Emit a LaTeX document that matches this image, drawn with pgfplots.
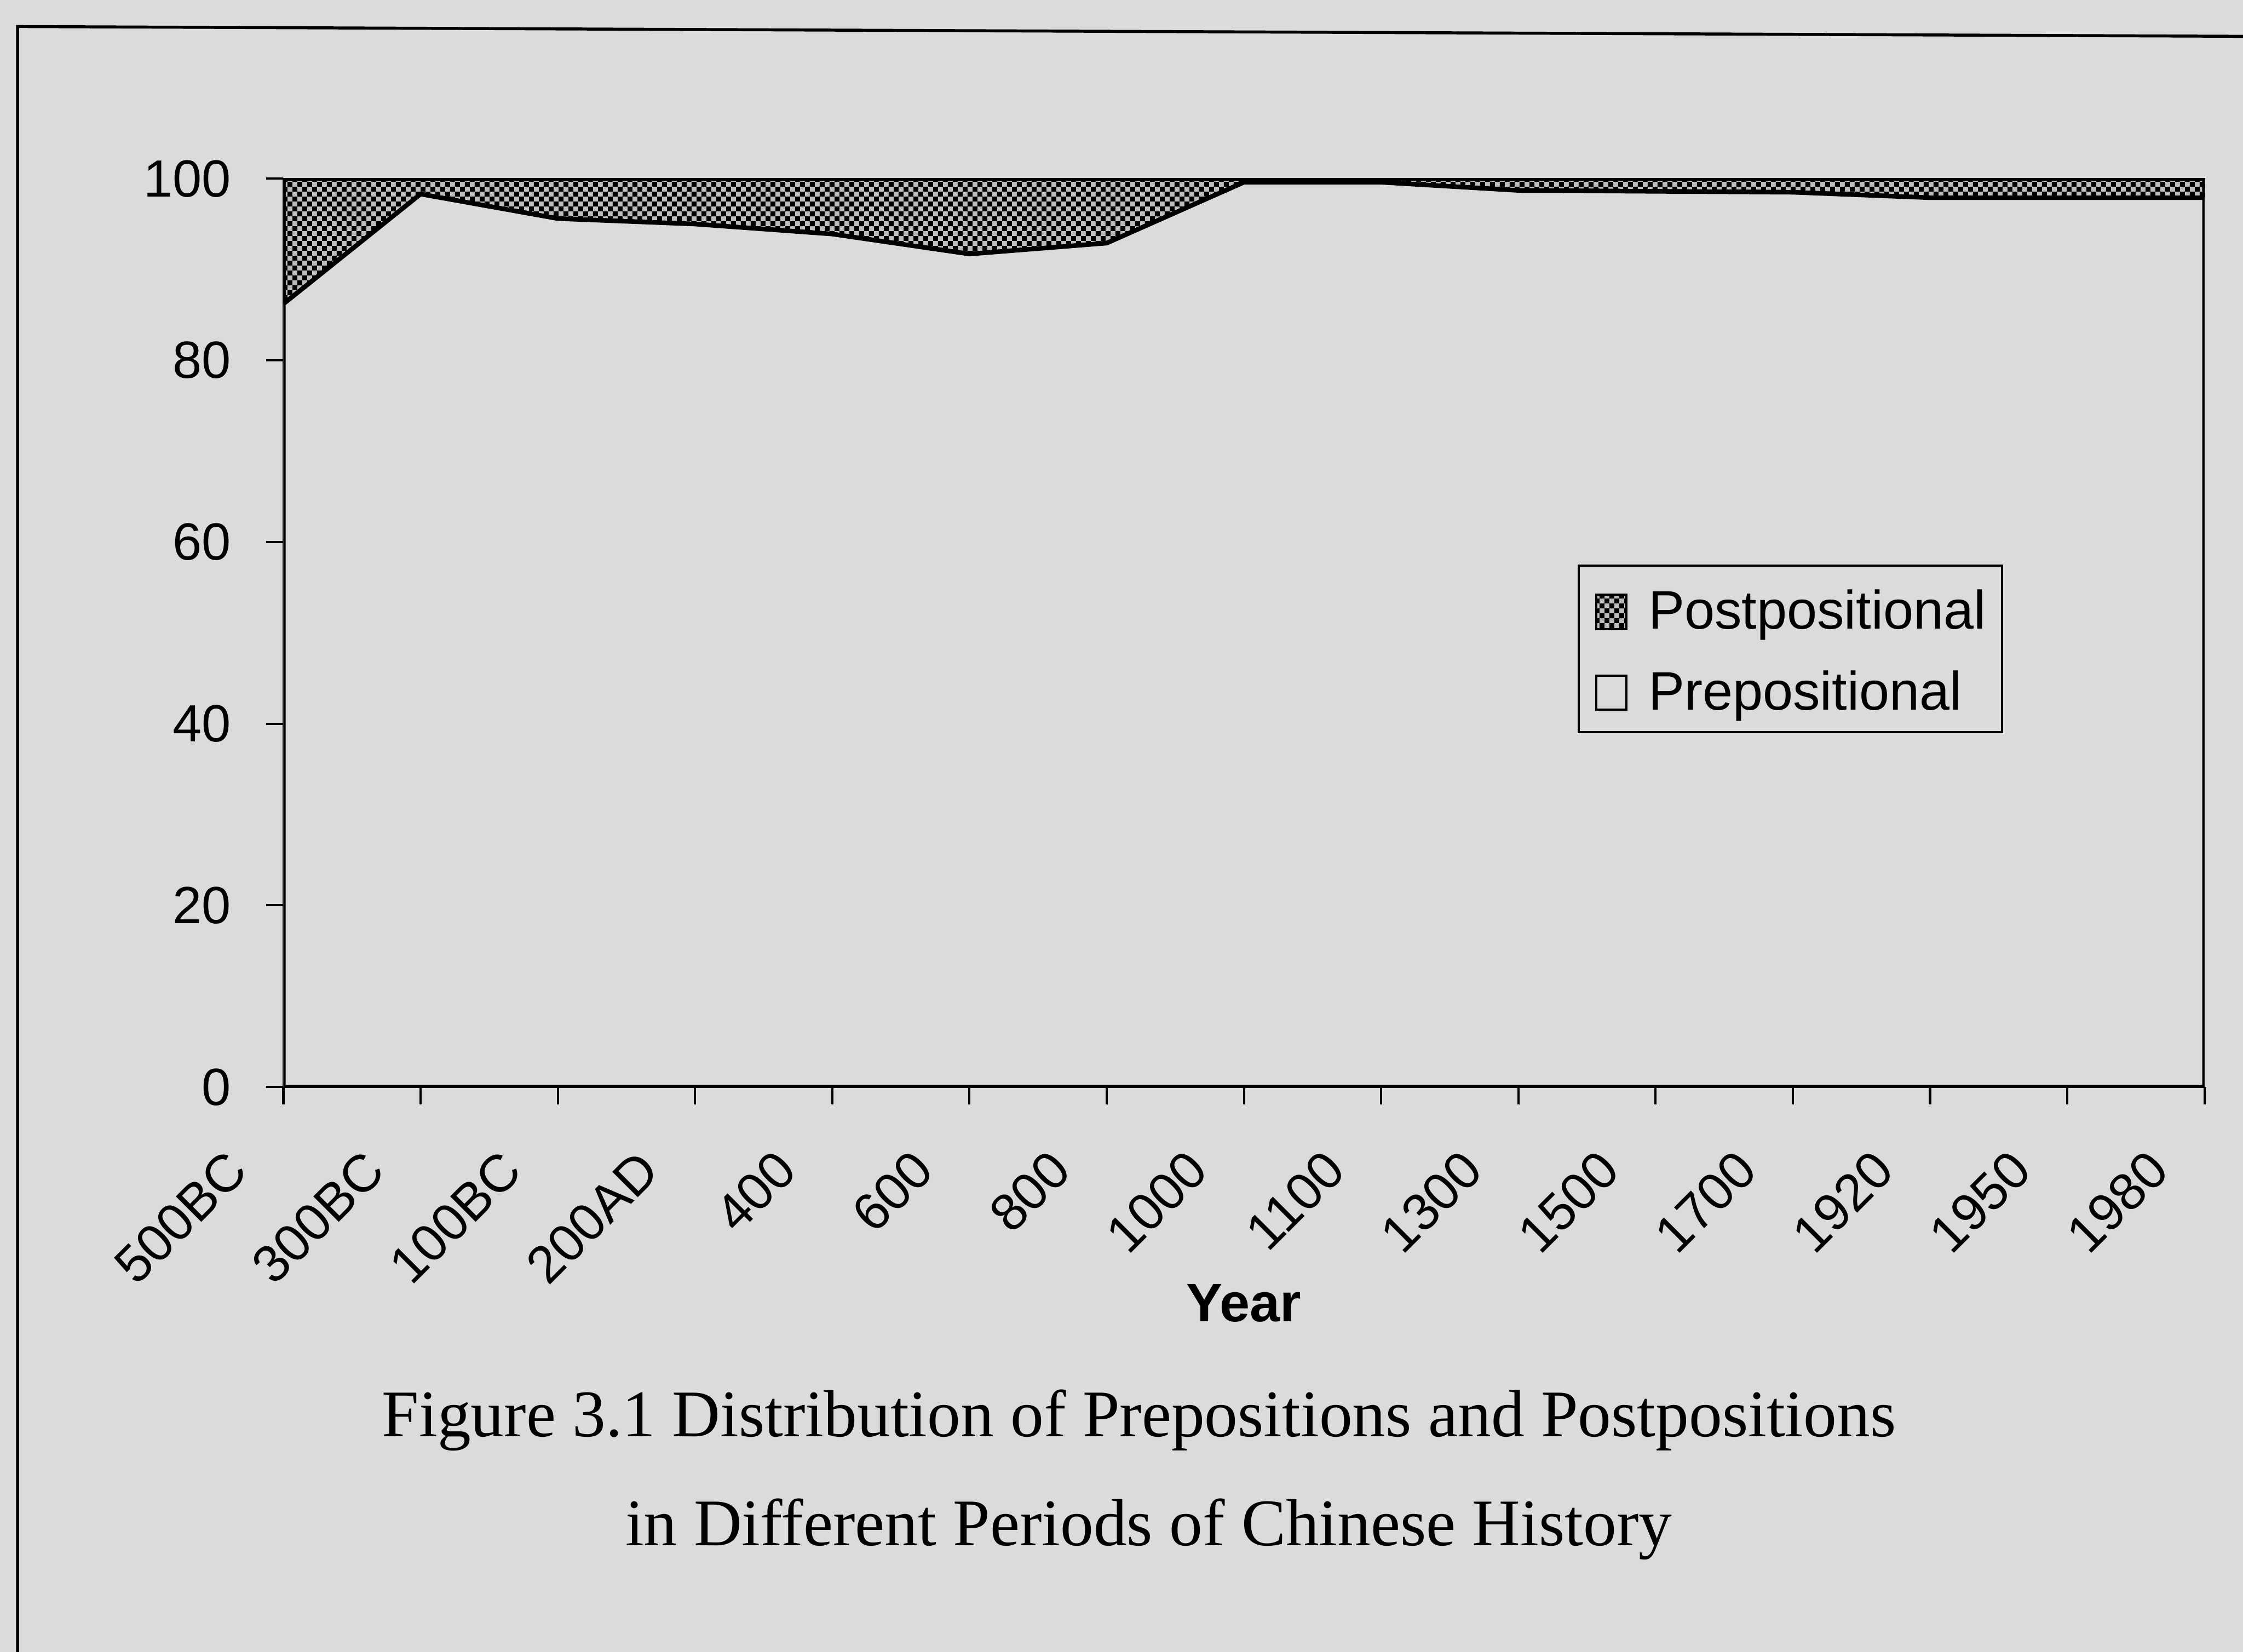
\documentclass[border=0pt]{standalone}
\usepackage{fontspec}
\setmainfont{Liberation Serif}
\newfontfamily\arial{Liberation Sans}
\usepackage{pgfplots}
\pgfplotsset{compat=1.18}
\usetikzlibrary{patterns}
\definecolor{bg}{gray}{0.86}
\definecolor{patlight}{gray}{0.74}
\pgfdeclarepatternformonly{checker}{\pgfpointorigin}{\pgfqpoint{2.7pt}{2.7pt}}{\pgfqpoint{2.7pt}{2.7pt}}{%
  \pgfpathrectangle{\pgfpointorigin}{\pgfqpoint{1.35pt}{1.35pt}}%
  \pgfpathrectangle{\pgfqpoint{1.35pt}{1.35pt}}{\pgfqpoint{1.35pt}{1.35pt}}%
  \pgfusepath{fill}}
\begin{document}
\begin{tikzpicture}
\useasboundingbox (0,0) rectangle (600pt,441.9pt);
\fill[bg] (0,0) rectangle (600pt,441.9pt);
\begin{scope}
\clip (0,0) rectangle (600pt,441.9pt);
\draw[line width=0.8pt] (4.7pt,-20pt) -- (4.7pt,434.8pt) -- (640pt,432pt);
\begin{axis}[
  at={(75.8pt,151.1pt)}, anchor=south west,
  scale only axis, width=513.9pt, height=243pt,
  xmin=0, xmax=14, ymin=0, ymax=100,
  enlargelimits=false,
  xtick={0,...,14},
  xticklabels={500BC,300BC,100BC,200AD,400,600,800,1000,1100,1300,1500,1700,1920,1950,1980},
  ytick={0,20,40,60,80,100},
  tick align=outside, xtick pos=bottom, ytick pos=left,
  major tick length=4.6pt,
  tick style={black, line width=0.6pt},
  axis line style={line width=0.5pt},
  axis background/.style={fill=bg},
  tick label style={font=\arial\fontsize{14}{16}\selectfont},
  /pgf/number format/assume math mode=true,
  yticklabel style={anchor=east, inner sep=0pt, xshift=-9.2pt},
  xticklabel style={xshift=-12.2pt, yshift=-15pt, rotate=45, anchor=east, inner sep=0pt},
  xlabel={Year},
  xlabel style={font=\arial\bfseries\fontsize{14.5}{16}\selectfont, at={(axis description cs:0.5,0)}, anchor=base, yshift=-62.7pt},
  stack plots=y,
  reverse legend,
  legend image code/.code={\draw[#1, line width=0.6pt] (0pt,0pt) rectangle (8pt,9.2pt);},
  legend style={at={(0.6737,0.5753)}, anchor=north west, draw=black, line width=0.6pt, fill=bg,
    font=\arial\fontsize{14.5}{16}\selectfont,
    cells={anchor=base west},
    inner xsep=4.4pt, inner ysep=5pt, row sep=8.6pt,
    nodes={inner sep=0pt, text height=12pt, text depth=1pt},
    /tikz/every odd column/.append style={column sep=5.6pt}},
]
\addplot[draw=black, line width=1.2pt, fill=bg] coordinates {
  (0,86.2) (1,98.3) (2,95.6) (3,95.0) (4,93.9) (5,91.7) (6,92.9) (7,99.6)
  (8,99.6) (9,98.7) (10,98.6) (11,98.5) (12,97.9) (13,97.9) (14,97.9)} \closedcycle;
\addlegendentry{Prepositional}
\addplot[draw=black, line width=1.2pt, fill=patlight, postaction={pattern=checker, pattern color=black}] coordinates {
  (0,13.8) (1,1.7) (2,4.4) (3,5.0) (4,6.1) (5,8.3) (6,7.1) (7,0.4)
  (8,0.4) (9,1.3) (10,1.4) (11,1.5) (12,2.1) (13,2.1) (14,2.1)} \closedcycle;
\addlegendentry{Postpositional}
\draw[line width=0.9pt] (rel axis cs:0,1) -- (rel axis cs:0,0) -- (rel axis cs:1,0);
\end{axis}
\node[font=\fontsize{17.8}{20}\selectfont, anchor=base, inner sep=0pt] at (304.7pt,57.6pt) {Figure 3.1 Distribution of Prepositions and Postpositions};
\node[font=\fontsize{17.8}{20}\selectfont, anchor=base, inner sep=0pt] at (307.3pt,28.4pt) {in Different Periods of Chinese History};
\end{scope}
\end{tikzpicture}
\end{document}
